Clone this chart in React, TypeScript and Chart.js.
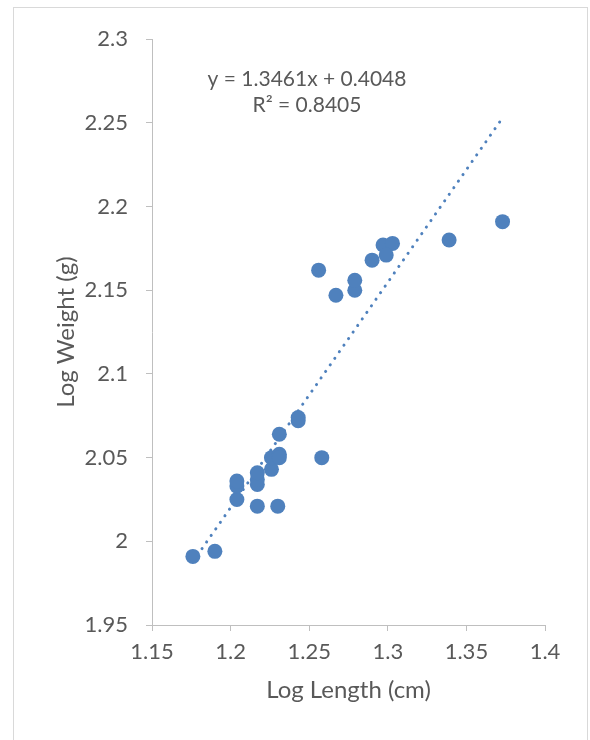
import React, { useEffect, useRef } from "react";
import { Chart, registerables } from "chart.js";

Chart.register(...registerables);

const logLength: number[] = [
  1.176, 1.190, 1.204, 1.204, 1.204, 1.217, 1.217, 1.217, 1.217, 1.230,
  1.226, 1.226, 1.231, 1.231, 1.231, 1.243, 1.243, 1.258, 1.256, 1.267,
  1.279, 1.279, 1.290, 1.297, 1.303, 1.299, 1.339, 1.373,
];
const logWeight: number[] = [
  1.991, 1.994, 2.025, 2.033, 2.036, 2.021, 2.034, 2.037, 2.041, 2.021,
  2.043, 2.050, 2.052, 2.050, 2.064, 2.072, 2.074, 2.050, 2.162, 2.147,
  2.150, 2.156, 2.168, 2.177, 2.178, 2.171, 2.180, 2.191,
];
const slope = 1.3461;
const intercept = 0.4048;
const equationText = "y = 1.3461x + 0.4048";
const r2Text = "R\u00b2 = 0.8405";
const xTitle = "Log Length (cm)";
const yTitle = "Log Weight (g)";

const FONT = "Lato, 'Open Sans', sans-serif";
const TEXT = "#595959";
const AXIS = "#bfbfbf";
const BLUE = "rgb(79,129,189)";

export default function App() {
  const ref = useRef<HTMLCanvasElement | null>(null);

  useEffect(() => {
    if (!ref.current) return;
    const pts = logLength.map((x, i) => ({ x, y: logWeight[i] }));
    const xMin = Math.min(...logLength);
    const xMax = Math.max(...logLength);
    const trend = [
      { x: xMin, y: slope * xMin + intercept },
      { x: xMax, y: slope * xMax + intercept },
    ];

    const eqPlugin = {
      id: "eq",
      afterDatasetsDraw(chart: any) {
        const { ctx, chartArea } = chart;
        ctx.save();
        ctx.fillStyle = TEXT;
        ctx.font = `21px ${FONT}`;
        ctx.textAlign = "center";
        ctx.textBaseline = "middle";
        const cx = chartArea.left + 155;
        ctx.fillText(equationText, cx, chartArea.top + 40);
        ctx.fillText(r2Text, cx, chartArea.top + 66);
        ctx.restore();
      },
    };

    const fmt = (v: any) => Number(Number(v).toFixed(2)).toString();

    const chart = new Chart(ref.current, {
      type: "scatter",
      data: {
        datasets: [
          {
            data: trend,
            type: "line",
            borderColor: BLUE,
            borderWidth: 3,
            borderDash: [0.1, 7.9],
            borderCapStyle: "round",
            pointRadius: 0,
            fill: false,
            order: 2,
          } as any,
          {
            data: pts,
            backgroundColor: BLUE,
            borderColor: BLUE,
            borderWidth: 0,
            pointRadius: 7.5,
            order: 1,
          },
        ],
      },
      options: {
        animation: false,
        responsive: false,
        maintainAspectRatio: false,
        layout: { padding: { left: 34, top: 29, right: 42, bottom: 35 } },
        plugins: { legend: { display: false }, tooltip: { enabled: false } },
        scales: {
          x: {
            type: "linear",
            min: 1.15,
            max: 1.4,
            ticks: {
              stepSize: 0.05,
              color: TEXT,
              font: { family: FONT, size: 22 },
              padding: 8,
              callback: fmt,
            },
            grid: {
              drawOnChartArea: false,
              drawTicks: true,
              tickLength: 6,
              color: AXIS,
            },
            border: { display: true, color: AXIS, width: 1 },
            title: {
              display: true,
              text: xTitle,
              color: TEXT,
              font: { family: FONT, size: 24 },
              padding: 0,
            },
            afterFit(scale: any) {
              scale.height = 80;
            },
          },
          y: {
            type: "linear",
            min: 1.95,
            max: 2.3,
            ticks: {
              stepSize: 0.05,
              color: TEXT,
              font: { family: FONT, size: 22 },
              padding: 18,
              callback: fmt,
            },
            grid: {
              drawOnChartArea: false,
              drawTicks: true,
              tickLength: 6,
              color: AXIS,
            },
            border: { display: true, color: AXIS, width: 1 },
            title: {
              display: true,
              text: yTitle,
              color: TEXT,
              font: { family: FONT, size: 24 },
              padding: { top: 4, bottom: 0 },
            },
            afterFit(scale: any) {
              scale.width = 104;
            },
          },
        },
      },
      plugins: [eqPlugin],
    } as any);
    return () => chart.destroy();
  }, []);

  return (
    <div
      style={{
        position: "fixed",
        left: 13,
        top: 7,
        width: 573,
        height: 740,
        border: "1px solid #d9d9d9",
        background: "#fff",
        boxSizing: "content-box",
      }}
    >
      <canvas ref={ref} width={573} height={732} style={{ display: "block" }} />
    </div>
  );
}
